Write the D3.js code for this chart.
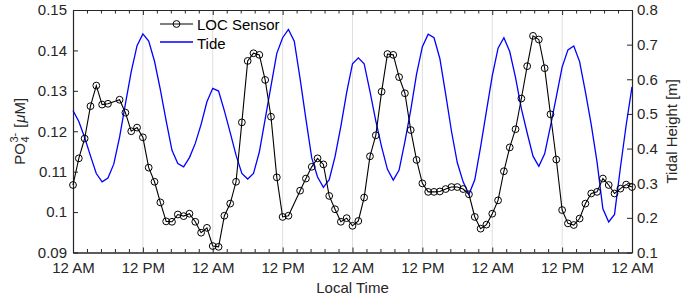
<!DOCTYPE html>
<html>
<head>
<meta charset="utf-8">
<script src="https://cdn.jsdelivr.net/npm/d3@7"></script>
<style>
  body { margin: 0; background: #fff; }
  svg { font-family: "Liberation Sans", Arial, sans-serif; }
  .tick text { font-size: 15px; fill: #262626; }
  .domain { stroke: #262626; }
  .tick line { stroke: #262626; }
</style>
</head>
<body>
<div id="chart"></div>
<script>
// hours since first midnight
let locHours = [0, 1, 2, 3, 4, 5, 6, 8, 9, 10, 11, 12, 13, 14, 15, 16, 17, 18, 19, 20,
    21, 22, 23, 24, 25, 26, 27, 28, 29, 30, 31, 32, 33, 34, 35, 36, 37, 39, 40, 41,
    42, 43, 44, 45, 46, 47, 48, 49, 50, 51, 52, 53, 54, 55, 56, 57, 58, 59, 60, 61,
    62, 63, 64, 65, 66, 67, 68, 69, 70, 71, 72, 73, 74, 75, 76, 77, 78, 79, 80, 81,
    82, 83, 84, 85, 86, 87, 88, 89, 90, 91, 92, 93, 94, 95, 96];
let locValues = [0.1067, 0.1133, 0.1182, 0.1262, 0.1313, 0.1266, 0.1268, 0.1278, 0.1246, 0.1200,
    0.1209, 0.1185, 0.1110, 0.1075, 0.1024, 0.0977, 0.0976, 0.0994, 0.0990, 0.0996,
    0.0976, 0.0949, 0.0961, 0.0916, 0.0914, 0.0991, 0.1021, 0.1075, 0.1222, 0.1374,
    0.1393, 0.1389, 0.1327, 0.1236, 0.1086, 0.0988, 0.0991, 0.1053, 0.1083, 0.1112,
    0.1133, 0.1118, 0.1040, 0.1007, 0.0976, 0.0985, 0.0966, 0.0978, 0.1036, 0.1138,
    0.1190, 0.1298, 0.1391, 0.1389, 0.1334, 0.1294, 0.1203, 0.1129, 0.1071, 0.1050,
    0.1050, 0.1051, 0.1057, 0.1062, 0.1062, 0.1057, 0.1044, 0.0988, 0.0959, 0.0969,
    0.0996, 0.1029, 0.1101, 0.1160, 0.1205, 0.1281, 0.1361, 0.1436, 0.1427, 0.1356,
    0.1242, 0.1130, 0.1005, 0.0972, 0.0968, 0.0984, 0.1021, 0.1046, 0.1050, 0.1083,
    0.1067, 0.1046, 0.1058, 0.1068, 0.1062];

// hourly tide height [m], hour 0..96
let tideValues = [0.510, 0.478, 0.432, 0.379, 0.328, 0.304, 0.315, 0.355, 0.433, 0.529,
    0.622, 0.697, 0.731, 0.710, 0.652, 0.570, 0.480, 0.395, 0.357, 0.347,
    0.374, 0.415, 0.470, 0.535, 0.574, 0.566, 0.509, 0.446, 0.381, 0.328,
    0.312, 0.328, 0.390, 0.485, 0.580, 0.675, 0.720, 0.744, 0.710, 0.602,
    0.485, 0.373, 0.318, 0.288, 0.310, 0.377, 0.464, 0.562, 0.645, 0.662,
    0.645, 0.565, 0.480, 0.405, 0.340, 0.309, 0.338, 0.420, 0.511, 0.615,
    0.694, 0.730, 0.720, 0.660, 0.557, 0.450, 0.359, 0.304, 0.268, 0.310,
    0.405, 0.508, 0.610, 0.690, 0.720, 0.680, 0.605, 0.515, 0.445, 0.378,
    0.349, 0.385, 0.465, 0.549, 0.635, 0.685, 0.696, 0.651, 0.564, 0.469,
    0.361, 0.226, 0.188, 0.210, 0.344, 0.468, 0.578];

let xTickHours = [0, 12, 24, 36, 48, 60, 72, 84, 96];
let xTickLabels = ["12 AM", "12 PM", "12 AM", "12 PM", "12 AM", "12 PM", "12 AM", "12 PM", "12 AM"];
let leftTicks = [0.09, 0.10, 0.11, 0.12, 0.13, 0.14, 0.15];
let leftTickLabels = ["0.09", "0.1", "0.11", "0.12", "0.13", "0.14", "0.15"];
let rightTicks = [0.1, 0.2, 0.3, 0.4, 0.5, 0.6, 0.7, 0.8];
let rightTickLabels = ["0.1", "0.2", "0.3", "0.4", "0.5", "0.6", "0.7", "0.8"];
let seriesNames = ["LOC Sensor", "Tide"];

const W = 686, H = 299;
const plot = {left: 73, right: 632, top: 10, bottom: 252.5};

let svg = d3.select("#chart").append("svg")
    .attr("width", W)
    .attr("height", H);

const x = d3.scaleLinear().domain([0, 96]).range([plot.left, plot.right]);
const yL = d3.scaleLinear().domain([0.09, 0.15]).range([plot.bottom, plot.top]);
const yR = d3.scaleLinear().domain([0.1, 0.8]).range([plot.bottom, plot.top]);

// vertical grid
svg.append("g")
    .selectAll("line")
    .data(xTickHours.slice(1, -1))
    .enter().append("line")
    .attr("x1", d => x(d)).attr("x2", d => x(d))
    .attr("y1", plot.top).attr("y2", plot.bottom)
    .attr("stroke", "#dedede")
    .attr("stroke-width", 1);

// minor x ticks every 0.1 day
let minorHours = d3.range(0, 96.01, 2.4).filter(h => xTickHours.indexOf(Math.round(h * 10) / 10) < 0);

svg.append("g")
    .attr("transform", `translate(0,${plot.bottom})`)
    .call(d3.axisBottom(x).tickValues(minorHours).tickSize(-3.5).tickSizeOuter(0).tickFormat(""));
svg.append("g")
    .attr("transform", `translate(0,${plot.top})`)
    .call(d3.axisTop(x).tickValues(minorHours).tickSize(-3.5).tickSizeOuter(0).tickFormat(""));

svg.append("g")
    .attr("transform", `translate(0,${plot.bottom})`)
    .call(d3.axisBottom(x).tickValues(xTickHours).tickSize(-5).tickSizeOuter(0).tickPadding(10)
        .tickFormat((d, i) => xTickLabels[i]));
svg.append("g")
    .attr("transform", `translate(0,${plot.top})`)
    .call(d3.axisTop(x).tickValues(xTickHours).tickSize(-5).tickSizeOuter(0).tickFormat(""));

svg.append("g")
    .attr("transform", `translate(${plot.left},0)`)
    .call(d3.axisLeft(yL).tickValues(leftTicks).tickSize(-5).tickSizeOuter(0).tickPadding(6)
        .tickFormat((d, i) => leftTickLabels[i]));
svg.append("g")
    .attr("transform", `translate(${plot.right},0)`)
    .call(d3.axisRight(yR).tickValues(rightTicks).tickSize(-5).tickSizeOuter(0).tickPadding(5)
        .tickFormat((d, i) => rightTickLabels[i]));

svg.selectAll(".tick text").attr("font-family", null);
svg.selectAll(".domain").attr("stroke-width", 1.2);

// tide
let tideLine = d3.line()
    .x((d, i) => x(i))
    .y(d => yR(d));

svg.append("path")
    .datum(tideValues)
    .attr("fill", "none")
    .attr("stroke", "#0000ff")
    .attr("stroke-width", 1.3)
    .attr("d", tideLine);

// LOC sensor
let locData = locHours.map((h, i) => ({h: h, v: locValues[i]}));

svg.append("path")
    .datum(locData)
    .attr("fill", "none")
    .attr("stroke", "#000")
    .attr("stroke-width", 1.1)
    .attr("d", d3.line().x(d => x(d.h)).y(d => yL(d.v)));

svg.append("g")
    .selectAll("circle")
    .data(locData)
    .enter().append("circle")
    .attr("cx", d => x(d.h))
    .attr("cy", d => yL(d.v))
    .attr("r", 3.4)
    .attr("fill", "none")
    .attr("stroke", "#000")
    .attr("stroke-width", 1);

// legend
let legend = svg.append("g").attr("font-size", 15).attr("fill", "#000");
legend.append("line")
    .attr("x1", 160).attr("x2", 193).attr("y1", 24).attr("y2", 24)
    .attr("stroke", "#000").attr("stroke-width", 1.1);
legend.append("circle")
    .attr("cx", 176.5).attr("cy", 24).attr("r", 3.4)
    .attr("fill", "none").attr("stroke", "#000");
legend.append("text").attr("x", 197).attr("y", 30).text(seriesNames[0]);
legend.append("line")
    .attr("x1", 160).attr("x2", 193).attr("y1", 42).attr("y2", 42)
    .attr("stroke", "#0000ff").attr("stroke-width", 1.3);
legend.append("text").attr("x", 197).attr("y", 49).text(seriesNames[1]);

// axis titles
svg.append("text")
    .attr("x", (plot.left + plot.right) / 2)
    .attr("y", 293)
    .attr("text-anchor", "middle")
    .attr("font-size", 15)
    .attr("fill", "#262626")
    .text("Local Time");

svg.append("text")
    .attr("transform", `translate(677,${(plot.top + plot.bottom) / 2}) rotate(-90)`)
    .attr("text-anchor", "middle")
    .attr("font-size", 15)
    .attr("fill", "#262626")
    .text("Tidal Height [m]");

// PO4 3- [uM] with stacked sub/superscript
let ylab = svg.append("g")
    .attr("transform", `translate(25,${(plot.top + plot.bottom) / 2}) rotate(-90)`)
    .attr("fill", "#262626");
let po = ylab.append("text").attr("font-size", 15).text("PO");
let poW = po.node().getComputedTextLength();
let sup = ylab.append("text").attr("font-size", 11).attr("x", poW + 0.5).attr("y", -7).text("3-");
let sub = ylab.append("text").attr("font-size", 11).attr("x", poW + 0.5).attr("y", 4).text("4");
let scriptW = Math.max(sup.node().getComputedTextLength(), sub.node().getComputedTextLength());
let gap = 5;
let rest = ylab.append("text").attr("font-size", 15).attr("x", poW + 0.5 + scriptW + gap);
rest.append("tspan").text("[");
rest.append("tspan").attr("font-style", "italic").attr("dx", 1).text("\u03bc");
rest.append("tspan").text("M]");
let totalW = poW + 0.5 + scriptW + gap + 1 + rest.node().getComputedTextLength();
ylab.selectAll("text").attr("transform", `translate(${-totalW / 2},0)`);
</script>
</body>
</html>
